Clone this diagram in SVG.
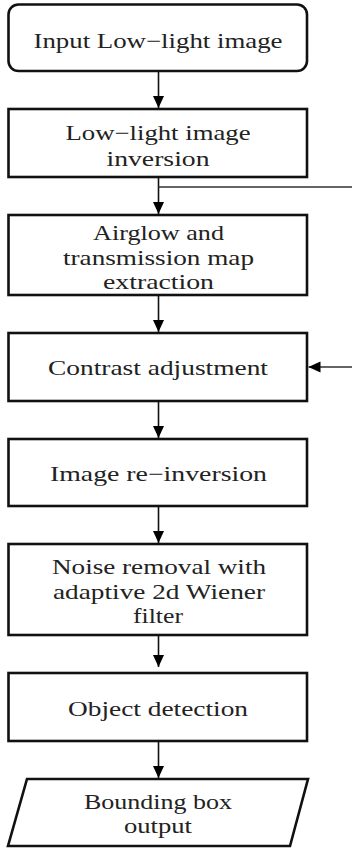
<svg xmlns="http://www.w3.org/2000/svg" width="352" height="848" viewBox="0 0 352 848">
<style>
.box{fill:#fff;stroke:#111;stroke-width:2.6}
.t{font-family:"Liberation Serif","Times New Roman",serif;font-size:21px;fill:#222;text-anchor:middle}
.c{fill:none;stroke:#111;stroke-width:1.6}
.fb{fill:none;stroke:#333;stroke-width:1.4}
</style>
<defs>
<marker id="ah" markerUnits="userSpaceOnUse" markerWidth="12" markerHeight="12" refX="12" refY="5.5" orient="auto">
<path d="M0,0 L12,5.5 L0,11 z" fill="#000"/>
</marker>
</defs>
<g id="connectors">
<line class="c" x1="158.5" y1="72" x2="158.5" y2="108" marker-end="url(#ah)"/>
<line class="c" x1="158.5" y1="178" x2="158.5" y2="214" marker-end="url(#ah)"/>
<line class="c" x1="158.5" y1="296" x2="158.5" y2="332" marker-end="url(#ah)"/>
<line class="c" x1="158.5" y1="402" x2="158.5" y2="438" marker-end="url(#ah)"/>
<line class="c" x1="158.5" y1="507" x2="158.5" y2="543" marker-end="url(#ah)"/>
<line class="c" x1="158.5" y1="636" x2="158.5" y2="667" marker-end="url(#ah)"/>
<line class="c" x1="158.5" y1="742" x2="158.5" y2="778" marker-end="url(#ah)"/>
<path class="fb" d="M158.5,187 H354 V367 H308.5" marker-end="url(#ah)"/>
</g>
<g id="n1">
<rect class="box" x="8.5" y="4.5" width="298.5" height="66.5" rx="10"/>
<text class="t" x="158" y="48" textLength="249" lengthAdjust="spacingAndGlyphs">Input Low−light image</text>
</g>
<g id="n2">
<rect class="box" x="8.5" y="109" width="298.5" height="68"/>
<text class="t" x="158" y="140" textLength="185" lengthAdjust="spacingAndGlyphs">Low−light image</text>
<text class="t" x="158" y="165.5" textLength="103" lengthAdjust="spacingAndGlyphs">inversion</text>
</g>
<g id="n3">
<rect class="box" x="8.5" y="215" width="298.5" height="80"/>
<text class="t" x="158.5" y="240" textLength="131" lengthAdjust="spacingAndGlyphs">Airglow and</text>
<text class="t" x="158.5" y="264.5" textLength="191" lengthAdjust="spacingAndGlyphs">transmission map</text>
<text class="t" x="158.5" y="289" textLength="111" lengthAdjust="spacingAndGlyphs">extraction</text>
</g>
<g id="n4">
<rect class="box" x="8.5" y="333" width="298.5" height="68"/>
<text class="t" x="158" y="375" textLength="220" lengthAdjust="spacingAndGlyphs">Contrast adjustment</text>
</g>
<g id="n5">
<rect class="box" x="8.5" y="439" width="298.5" height="67"/>
<text class="t" x="158.5" y="481" textLength="217" lengthAdjust="spacingAndGlyphs">Image re−inversion</text>
</g>
<g id="n6">
<rect class="box" x="8.5" y="544" width="298.5" height="91"/>
<text class="t" x="159" y="574" textLength="214" lengthAdjust="spacingAndGlyphs">Noise removal with</text>
<text class="t" x="159" y="598.5" textLength="212" lengthAdjust="spacingAndGlyphs">adaptive 2d Wiener</text>
<text class="t" x="158" y="622.5" textLength="50" lengthAdjust="spacingAndGlyphs">filter</text>
</g>
<g id="n7">
<rect class="box" x="8.5" y="673" width="298.5" height="68"/>
<text class="t" x="158" y="716" textLength="180" lengthAdjust="spacingAndGlyphs">Object detection</text>
</g>
<g id="n8">
<polygon class="box" stroke-width="2.2" points="27,779 308,779 290,846 8,846"/>
<text class="t" x="158" y="809" textLength="148" lengthAdjust="spacingAndGlyphs">Bounding box</text>
<text class="t" x="158" y="833" textLength="68" lengthAdjust="spacingAndGlyphs">output</text>
</g>
</svg>
